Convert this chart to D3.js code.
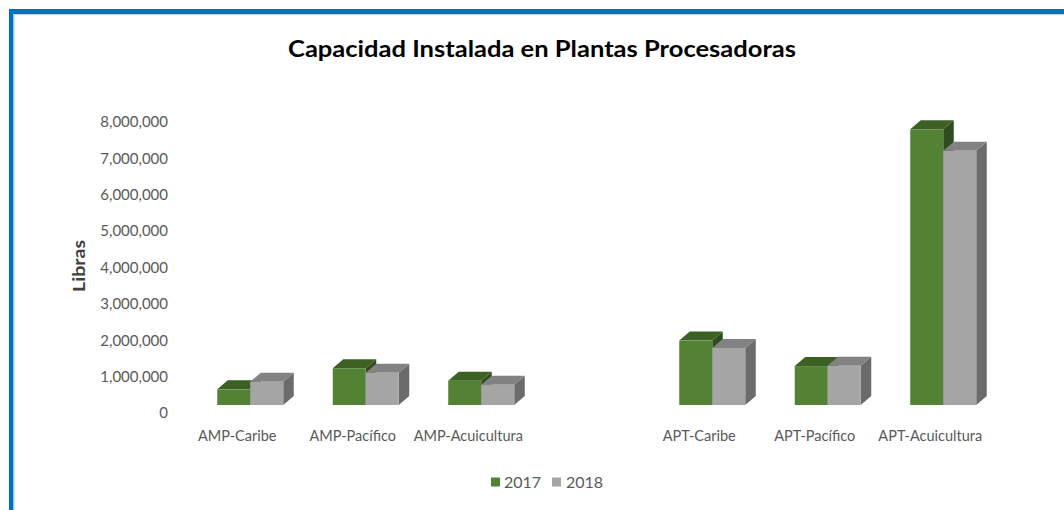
<!DOCTYPE html>
<html>
<head>
<meta charset="utf-8">
<script src="https://cdn.jsdelivr.net/npm/d3@7/dist/d3.min.js"></script>
<style>
  html, body { margin: 0; padding: 0; background: #ffffff; }
  svg { display: block; }
  text { font-family: Lato, "Open Sans", sans-serif; }
</style>
</head>
<body>
<svg id="chart" width="1064" height="510"></svg>
<script>
// Installed processing capacity (pounds) by fleet and year
const categories = ["AMP-Caribe", "AMP-Pacífico", "AMP-Acuicultura", "", "APT-Caribe", "APT-Pacífico", "APT-Acuicultura"];
const years = ["2017", "2018"];
const values2017 = [430000, 1010000, 670000, null, 1770000, 1070000, 7580000];
const values2018 = [640000, 890000, 560000, null, 1570000, 1080000, 6990000];
const yTicks = [0, 1000000, 2000000, 3000000, 4000000, 5000000, 6000000, 7000000, 8000000];

const svg = d3.select("#chart");
const W = 1064, H = 510;

// frame: thick blue rule along top and left edges
svg.append("rect").attr("x", 0).attr("y", 0).attr("width", W).attr("height", H).attr("fill", "#ffffff");
svg.append("rect").attr("x", 9).attr("y", 9).attr("width", W - 9).attr("height", 5).attr("fill", "#0070C0");
svg.append("rect").attr("x", 9).attr("y", 9).attr("width", 4.5).attr("height", H - 9).attr("fill", "#0070C0");
svg.append("rect").attr("x", 13.5).attr("y", 14).attr("width", W - 13.5).attr("height", 1.2).attr("fill", "#BDD7EE");
svg.append("rect").attr("x", 13.5).attr("y", 14).attr("width", 1.2).attr("height", H - 14).attr("fill", "#BDD7EE");

// title
svg.append("text")
  .attr("x", 542).attr("y", 57)
  .attr("text-anchor", "middle")
  .attr("font-weight", "bold")
  .attr("font-size", 23)
  .attr("fill", "#000000")
  .attr("textLength", 508)
  .attr("lengthAdjust", "spacingAndGlyphs")
  .text("Capacidad Instalada en Plantas Procesadoras");

// scales
const y = d3.scaleLinear().domain([0, 8000000]).range([413, 122]);
const x = d3.scaleBand().domain(categories).range([192.5, 1001]).padding(0);

// value axis
const yAxis = d3.axisLeft(y)
  .tickValues(yTicks)
  .tickSize(0)
  .tickPadding(0)
  .tickFormat(d3.format(","));
const gy = svg.append("g").attr("transform", "translate(168,0)").call(yAxis);
gy.select(".domain").remove();
gy.selectAll("text")
  .attr("font-family", "Lato, sans-serif")
  .attr("font-size", 15)
  .attr("fill", "#595959");

// axis title
svg.append("text")
  .attr("transform", "translate(85,266) rotate(-90)")
  .attr("text-anchor", "middle")
  .attr("font-weight", "bold")
  .attr("font-size", 17)
  .attr("fill", "#404040")
  .attr("textLength", 52)
  .attr("lengthAdjust", "spacingAndGlyphs")
  .text("Libras");

// 3D column geometry
const barW = 33;
const depthX = 10.5, depthY = -9;
const floorY = y(0) - 8;

const palette = {
  "2017": { front: "#548235", top: "#3D6125", side: "#2F4D1C" },
  "2018": { front: "#A5A5A5", top: "#828282", side: "#6B6B6B" }
};

function drawColumn(g, x0, v, c) {
  const hgt = y(0) - y(v);
  const top = floorY - hgt;
  const x1 = x0 + barW;
  // right side face
  g.append("path")
    .attr("d", `M${x1},${top} L${x1 + depthX},${top + depthY} L${x1 + depthX},${floorY + depthY} L${x1},${floorY} Z`)
    .attr("fill", c.side);
  // top face
  g.append("path")
    .attr("d", `M${x0},${top} L${x0 + depthX},${top + depthY} L${x1 + depthX},${top + depthY} L${x1},${top} Z`)
    .attr("fill", c.top);
  // front face
  g.append("rect")
    .attr("x", x0).attr("y", top).attr("width", barW).attr("height", hgt)
    .attr("fill", c.front);
}

const bars = svg.append("g");
categories.forEach((cat, i) => {
  if (!cat) return;
  const center = x(cat) + x.bandwidth() / 2;
  drawColumn(bars, center - barW, values2017[i], palette["2017"]);
  drawColumn(bars, center, values2018[i], palette["2018"]);
});

// category labels
svg.append("g").selectAll("text")
  .data(categories.filter(d => d))
  .join("text")
  .attr("x", d => x(d) + x.bandwidth() / 2 - 13)
  .attr("y", 441)
  .attr("text-anchor", "middle")
  .attr("font-size", 14.5)
  .attr("fill", "#595959")
  .text(d => d);

// legend
const legendItems = [
  { key: years[0], sx: 491, tx: 504 },
  { key: years[1], sx: 552, tx: 566 }
];
const lg = svg.append("g");
legendItems.forEach(it => {
  lg.append("rect").attr("x", it.sx).attr("y", 477.5).attr("width", 9).attr("height", 9)
    .attr("fill", palette[it.key].front);
  lg.append("text").attr("x", it.tx).attr("y", 488)
    .attr("font-size", 16).attr("fill", "#595959").text(it.key);
});
</script>
</body>
</html>
